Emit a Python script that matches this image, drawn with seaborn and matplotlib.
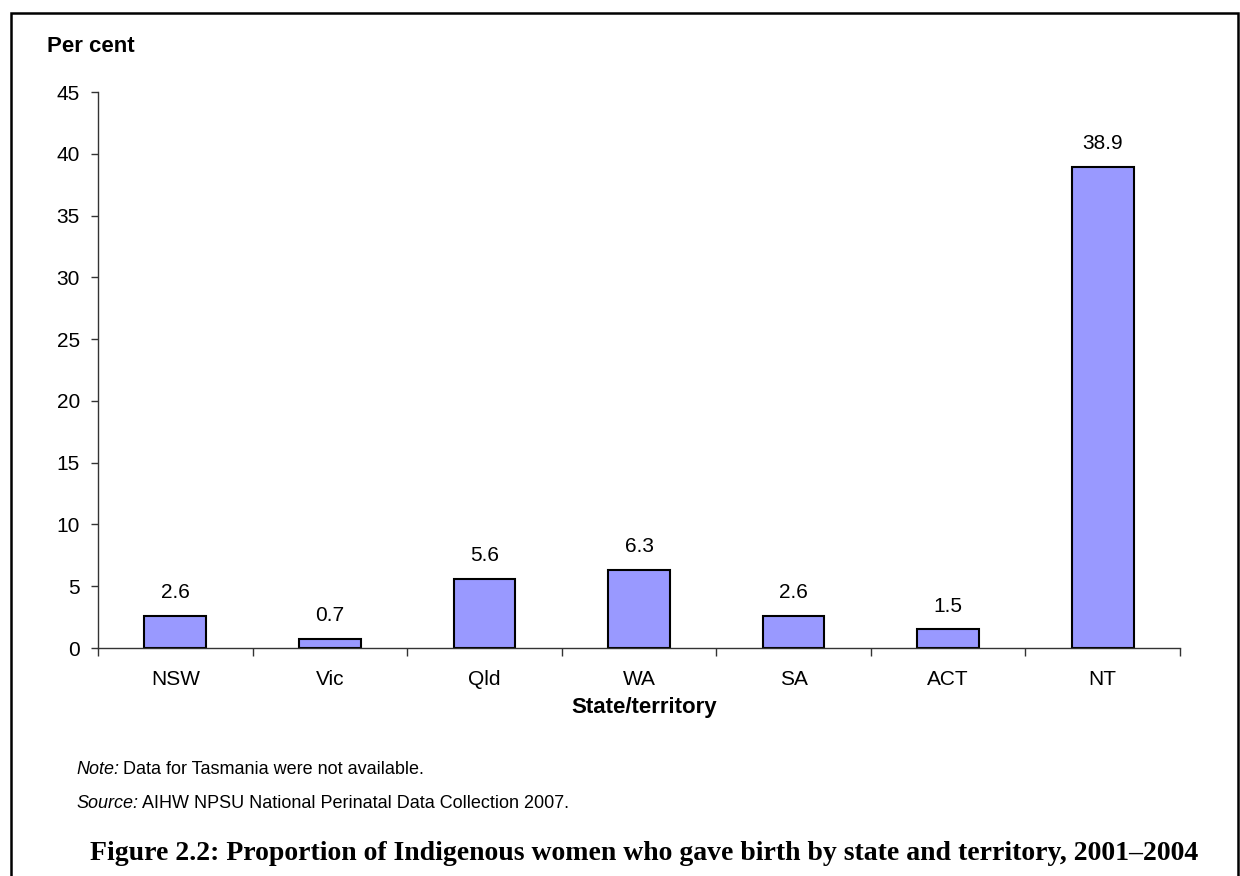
import matplotlib
matplotlib.use("Agg")
import matplotlib.pyplot as plt
import seaborn as sns
import pandas as pd
from matplotlib.patches import Rectangle

categories = ["NSW", "Vic", "Qld", "WA", "SA", "ACT", "NT"]
values = [2.6, 0.7, 5.6, 6.3, 2.6, 1.5, 38.9]
y_ticks = [0, 5, 10, 15, 20, 25, 30, 35, 40, 45]

sns.set_theme(style="white")
plt.rcParams['font.family'] = ['Liberation Sans', 'DejaVu Sans']
plt.rcParams['text.color'] = 'black'
plt.rcParams['xtick.color'] = 'black'
plt.rcParams['ytick.color'] = 'black'
plt.rcParams['axes.labelcolor'] = 'black'

df = pd.DataFrame({"State": categories, "Value": values})

fig = plt.figure(figsize=(12.4, 8.76), dpi=100)
ax = fig.add_axes([98/1240, 1-648/876, (1180-98)/1240, (648-92)/876])

sns.barplot(data=df, x="State", y="Value", ax=ax, color="#9999FF",
            saturation=1, width=0.4, edgecolor="black", linewidth=1.5)

ax.set_xlim(-0.5, len(categories)-0.5)
ax.set_ylim(0, 45)
ax.set_yticks(y_ticks)
ax.set_yticklabels([str(t) for t in y_ticks], fontsize=15)
ax.set_xticks(range(len(categories)))
ax.set_xticklabels(categories, fontsize=15)
ax.set_xticks([i - 0.5 for i in range(len(categories)+1)], minor=True)
ax.tick_params(axis='x', which='major', length=0, pad=16)
ax.tick_params(axis='x', which='minor', length=6, width=1, color='#333333', direction='out', bottom=True)
ax.tick_params(axis='y', which='major', length=5, width=1, color='#333333', direction='out', left=True, pad=8)

for s in ["top", "right"]:
    ax.spines[s].set_visible(False)
for s in ["left", "bottom"]:
    ax.spines[s].set_color("#333333")
    ax.spines[s].set_linewidth(1)

ax.set_xlabel("")
ax.set_ylabel("")

for c in ax.containers:
    ax.bar_label(c, labels=[f"{v:.1f}" for v in values], padding=10, fontsize=15)

fig.text(644/1240, 1-707/876, "State/territory", fontsize=16, fontweight="bold", va="center", ha="center")
fig.text(47/1240, 1-46/876, "Per cent", fontsize=16, fontweight="bold", va="center", ha="left")

# notes
renderer = fig.canvas.get_renderer()
t1 = fig.text(76/1240, 1-770/876, "Note:", fontsize=13, style="italic", va="center", ha="left")
bb = t1.get_window_extent(renderer)
fig.text(bb.x1/1240 + 4/1240, 1-770/876, "Data for Tasmania were not available.", fontsize=13, va="center", ha="left")
t2 = fig.text(76/1240, 1-804/876, "Source:", fontsize=13, style="italic", va="center", ha="left")
bb2 = t2.get_window_extent(renderer)
fig.text(bb2.x1/1240 + 4/1240, 1-804/876, "AIHW NPSU National Perinatal Data Collection 2007.", fontsize=13, va="center", ha="left")

fig.text(644/1240, 1-854/876, "Figure 2.2: Proportion of Indigenous women who gave birth by state and territory, 2001\u20132004",
         fontsize=20, fontweight="bold", family=["Liberation Serif", "DejaVu Serif"], va="center", ha="center")

fig.patches.append(Rectangle((11/1240, -0.01), (1238-11)/1240, (876-13)/876 + 0.01,
                             transform=fig.transFigure, fill=False, edgecolor="black", linewidth=1.8))

fig.savefig("out.png", dpi=100)
